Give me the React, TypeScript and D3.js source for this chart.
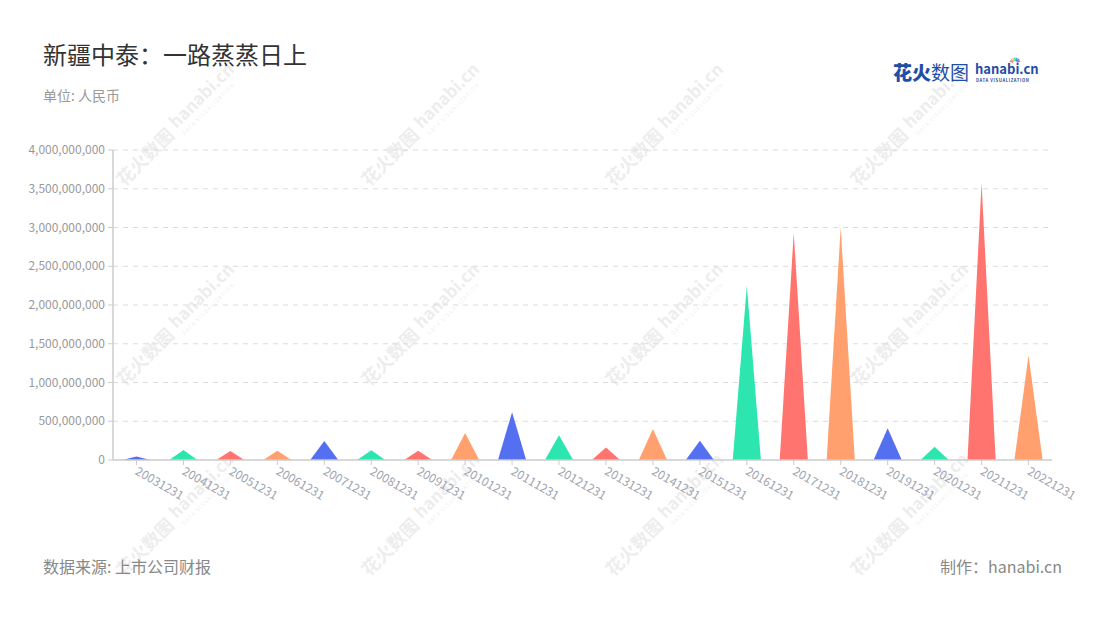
import React from "react";
import * as d3 from "d3";

const categories = ["20031231","20041231","20051231","20061231","20071231","20081231","20091231","20101231","20111231","20121231","20131231","20141231","20151231","20161231","20171231","20181231","20191231","20201231","20211231","20221231"];
const values = [45e6,130e6,115e6,120e6,245e6,125e6,120e6,350e6,615e6,320e6,160e6,400e6,250e6,2250e6,2930e6,3000e6,410e6,170e6,3575e6,1350e6];
const palette = ["#5470F0", "#2DE6AF", "#FF746E", "#FFA06E"];
const yTicks = [0, 5e8, 1e9, 1.5e9, 2e9, 2.5e9, 3e9, 3.5e9, 4e9];

const W = 1100, H = 620;
const left = 113, right = 1052, top = 150, bottom = 460;
const FONT = "'Noto Sans CJK SC','Noto Sans',sans-serif";

const watermarkCenters: [number, number][] = [];
[125, 325, 515].forEach((cy) => [178, 423, 667, 912].forEach((cx) => watermarkCenters.push([cx, cy])));

export default function App() {
  const x = d3.scaleBand<string>().domain(categories).range([left, right]).paddingInner(0).paddingOuter(0);
  const y = d3.scaleLinear().domain([0, 4e9]).range([bottom, top]);
  const fmt = d3.format(",");
  const bw = x.bandwidth();
  const triW = bw * 0.6;

  return (
    <svg width={W} height={H} style={{ display: "block", margin: "-8px", fontFamily: FONT }}>
      <rect width={W} height={H} fill="#fff" />
      {/* watermarks */}
      {watermarkCenters.map(([cx, cy], i) => (
        <g key={"wm" + i} transform={`translate(${cx},${cy}) rotate(-45)`} opacity={0.09}>
          <text x={-10} y={6} textAnchor="end" fontSize={18} fontWeight={700} fill="#444">花火数图</text>
          <text x={-4} y={2} textAnchor="start" fontSize={17} fontWeight={700} fill="#444">hanabi.cn</text>
          <text x={-3} y={12} textAnchor="start" fontSize={5.5} fill="#444" letterSpacing={1}>DATA VISUALIZATION</text>
        </g>
      ))}
      {/* title */}
      <text x={43} y={64} fontSize={24} fill="#333">新疆中泰：一路蒸蒸日上</text>
      <text x={43} y={101} fontSize={14} fill="#999">单位: 人民币</text>
      {/* logo */}
      <g>
        <text x={893} y={80} fontSize={19} fontWeight={900} fill="#1F4EA6">花火</text>
        <text x={931} y={80} fontSize={19} fill="#1F4EA6">数图</text>
        <text x={975} y={74} fontSize={13} fontWeight={700} fill="#1F4EA6">hanabi.cn</text>
        <text x={976} y={81.5} fontSize={4.2} fontWeight={700} fill="#1F4EA6" letterSpacing={0.6}>DATA VISUALIZATION</text>
        {[0, 1, 2, 3, 4, 5, 6].map((k) => {
          const a = (-160 + k * 23) * Math.PI / 180;
          const cx = 1015, cy = 63;
          const cols = ["#FF746E", "#FFA06E", "#FFD25E", "#2DE6AF", "#2DB6F0", "#5470F0", "#B36EF0"];
          return <line key={k} x1={cx + Math.cos(a) * 2} y1={cy + Math.sin(a) * 2} x2={cx + Math.cos(a) * 5.5} y2={cy + Math.sin(a) * 5.5} stroke={cols[k]} strokeWidth={1.5} />;
        })}
      </g>
      {/* grid */}
      {yTicks.map((t) => (
        <g key={"g" + t}>
          {t !== 0 && <line x1={left} x2={right} y1={y(t)} y2={y(t)} stroke="#dcdcdc" strokeDasharray="5 5" />}
          <line x1={left - 5} x2={left} y1={y(t)} y2={y(t)} stroke="#ccc" />
          <text x={left - 8} y={y(t)} dy="0.35em" textAnchor="end" fontSize={12} fill="#999">{fmt(t)}</text>
        </g>
      ))}
      <line x1={left} x2={left} y1={top} y2={bottom} stroke="#ccc" strokeWidth={1.5} />
      {/* bars */}
      {categories.map((c, i) => {
        const cx = x(c)! + bw / 2;
        const y0 = y(0), y1 = y(values[i]);
        const p = d3.path();
        p.moveTo(cx - triW / 2, y0);
        p.lineTo(cx, y1);
        p.lineTo(cx + triW / 2, y0);
        p.closePath();
        return <path key={c} d={p.toString()} fill={palette[i % 4]} />;
      })}
      <line x1={left} x2={right} y1={bottom} y2={bottom} stroke="#ccc" strokeWidth={1.5} />
      {categories.map((c) => {
        const cx = x(c)! + bw / 2;
        return (
          <g key={"x" + c}>
            <line x1={cx} x2={cx} y1={bottom} y2={bottom + 5} stroke="#ccc" />
            <text transform={`translate(${cx},${bottom + 10}) rotate(30)`} dy="0.35em" fontSize={12} fill="#a0a4b0">{c}</text>
          </g>
        );
      })}
      {/* footer */}
      <text x={43} y={573} fontSize={16} fill="#888">数据来源: 上市公司财报</text>
      <text x={1062} y={573} fontSize={16} fill="#888" textAnchor="end">制作：hanabi.cn</text>
    </svg>
  );
}
